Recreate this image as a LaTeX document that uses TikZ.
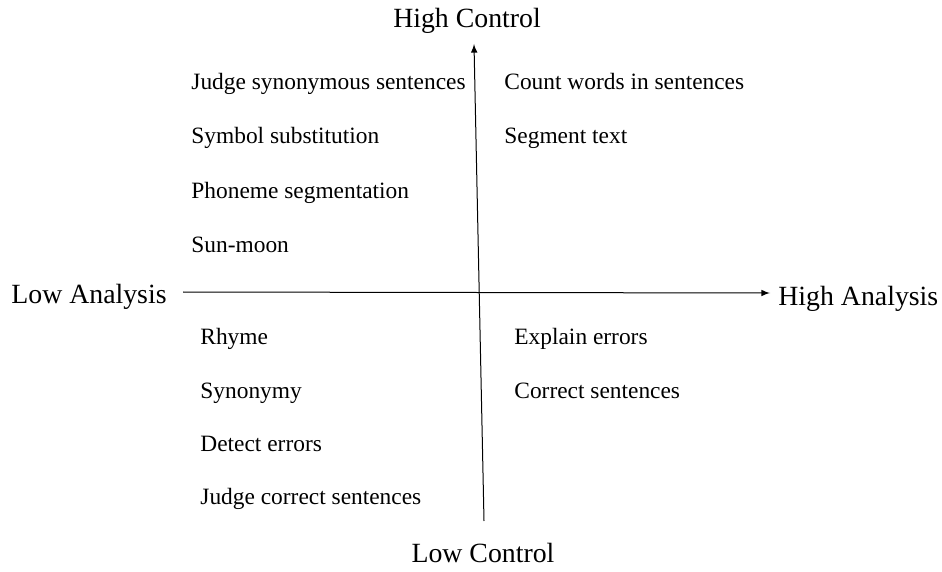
\documentclass[tikz,border=0pt]{standalone}
\usepackage{fontspec}
\setmainfont{Liberation Serif}
\usetikzlibrary{arrows}
\begin{document}
\begin{tikzpicture}[x=0.5pt, y=-0.5pt,
    task/.style={anchor=base west, inner sep=0pt, font=\fontsize{11.7}{14}\selectfont},
    pole/.style={inner sep=0pt, font=\fontsize{13.9}{16}\selectfont}]
    \useasboundingbox (0,0) rectangle (942,572);
    % Axis labels
    \node [pole, anchor=base] (hc) at (467,28) {High Control};
    \node [pole, anchor=base] (lc) at (483,562) {Low Control};
    \node [pole, anchor=base east] (la) at (167,303) {Low Analysis};
    \node [pole, anchor=base west] (ha) at (778,306) {High Analysis};
    % Axes
    \coordinate (top) at (474,44);
    \coordinate (bot) at (484,521);
    \coordinate (left) at (183,292);
    \coordinate (right) at (770,293);
    \draw [-latex, line width=0.5pt] (bot) -- (top);
    \draw [-latex, line width=0.5pt] (left) -- (right);
    % Upper left
    \node [task] (jss) at (191,90) {Judge synonymous sentences};
    \node [task] (ss) at (191,144) {Symbol substitution};
    \node [task] (ps) at (191,199) {Phoneme segmentation};
    \node [task] (sm) at (191,253) {Sun-moon};
    % Upper right
    \node [task] (cw) at (504,90) {Count words in sentences};
    \node [task] (st) at (504,144) {Segment text};
    % Lower left
    \node [task] (rh) at (200,344) {Rhyme};
    \node [task] (sy) at (200,398) {Synonymy};
    \node [task] (de) at (200,451) {Detect errors};
    \node [task] (jcs) at (200,504) {Judge correct sentences};
    % Lower right
    \node [task] (ee) at (514,344) {Explain errors};
    \node [task] (cs) at (514,398) {Correct sentences};
\end{tikzpicture}
\end{document}
